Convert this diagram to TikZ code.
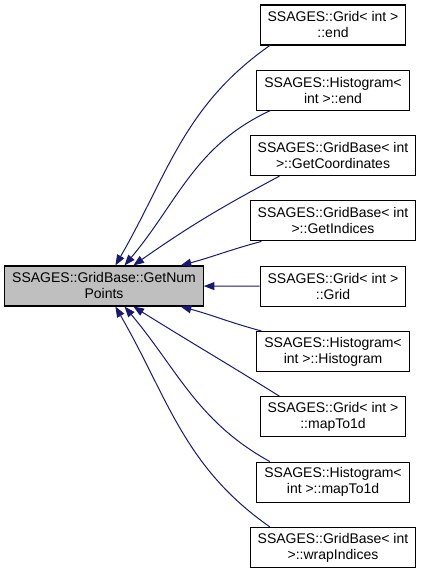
\documentclass[tikz,border=0pt]{standalone}
\usepackage{fontspec}
\setmainfont{Liberation Sans}
\usetikzlibrary{arrows.meta}

\definecolor{edgeblue}{HTML}{191970}
\definecolor{focusgray}{HTML}{BFBFBF}

\begin{document}
\begin{tikzpicture}
[
	x=0.75pt, y=0.75pt,
	fnbox/.style={rectangle,draw=black,line width=0.8pt,fill=white,align=center,inner xsep=5.6pt,inner ysep=0pt,minimum height=30pt,font=\fontsize{10.5}{12}\selectfont},
	focusbox/.style={fnbox,fill=focusgray},
	callarrow/.style={edgeblue,line width=0.75pt,-{Triangle[length=8pt,width=6pt]}}
]

	\useasboundingbox (0,0) rectangle (421,573);

	% the function that is called
	\node[focusbox] (getnum) at (104,287) {SSAGES::GridBase::GetNum\\Points};

	% its callers
	\foreach \name/\txt [count=\i] in {
		gridend/SSAGES::Grid< int >\\::end,
		histend/SSAGES::Histogram<\\int >::end,
		getcoords/SSAGES::GridBase< int\\>::GetCoordinates,
		getindices/SSAGES::GridBase< int\\>::GetIndices,
		gridctor/SSAGES::Grid< int >\\::Grid,
		histctor/SSAGES::Histogram<\\int >::Histogram,
		gridmap/SSAGES::Grid< int >\\::mapTo1d,
		histmap/SSAGES::Histogram<\\int >::mapTo1d,
		wrap/SSAGES::GridBase< int\\>::wrapIndices} {
		\node[fnbox] (\name) at (333,{548-65.3*(\i-1)}) {\txt};
	}

	% calls above
	\draw[callarrow] (gridend.198) to[out=215,in=60] (getnum.61);
	\draw[callarrow] (histend.198) to[out=205,in=50] (getnum.45);
	\draw[callarrow] (getcoords.201) to[out=208,in=35] (getnum.35);
	\draw[callarrow] (getindices.196) to[out=195,in=15] (getnum.15);

	% straight across
	\draw[callarrow] (gridctor) -- (getnum);

	% calls below
	\draw[callarrow] (histctor.164) to[out=165,in=-15] (getnum.-15);
	\draw[callarrow] (gridmap.159) to[out=148,in=-32] (getnum.-35);
	\draw[callarrow] (histmap.162) to[out=151,in=-50] (getnum.-45);
	\draw[callarrow] (wrap.162) to[out=145,in=-60] (getnum.-61);

\end{tikzpicture}
\end{document}
